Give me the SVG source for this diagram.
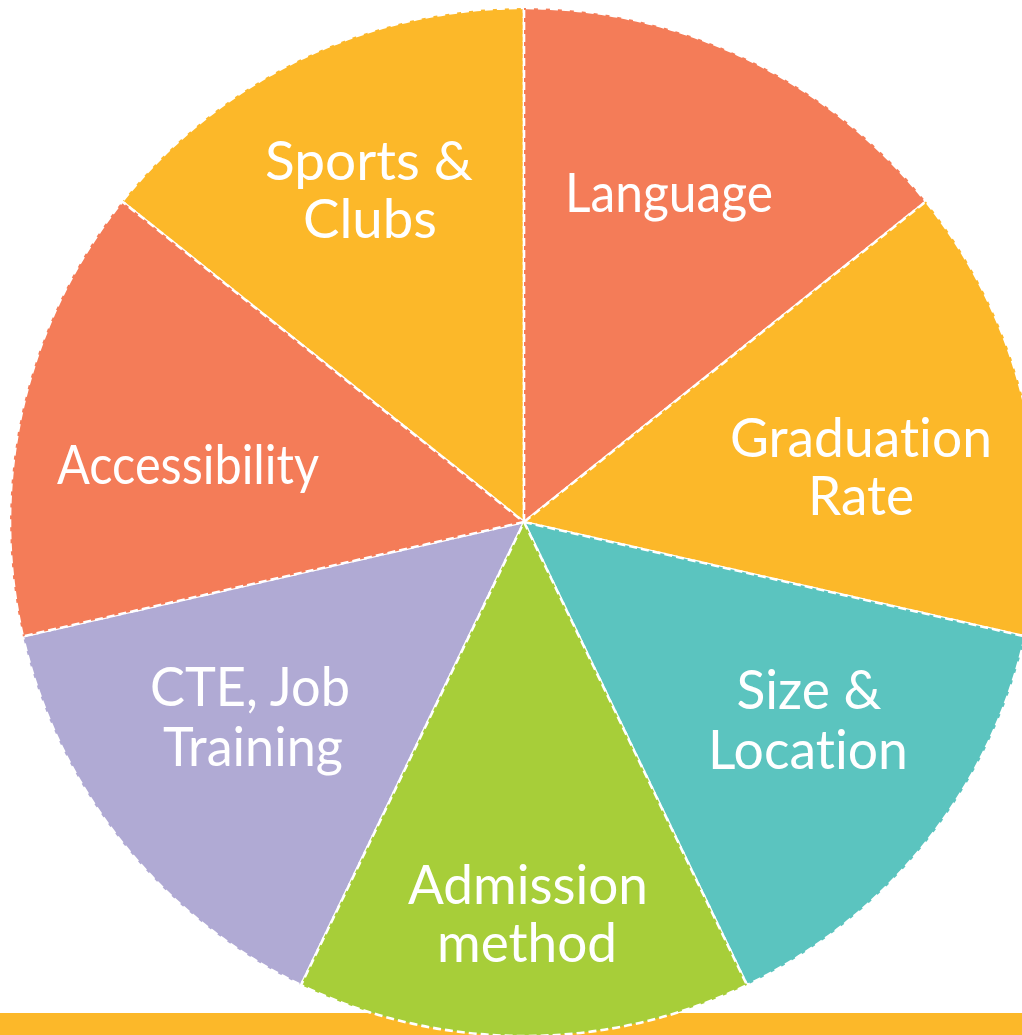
<svg xmlns="http://www.w3.org/2000/svg" width="1022" height="1035" viewBox="0 0 1022 1035">
  <style>
    .slice { stroke: #ffffff; stroke-width: 2.6; stroke-dasharray: 8 4; stroke-linejoin: round; }
    .orange { fill: #F47C58; }
    .yellow { fill: #FCB829; }
    .teal { fill: #5BC4BF; }
    .green { fill: #A7CE39; }
    .purple { fill: #B0AAD4; }
    .lbl { font-family: Lato, "Open Sans", "DejaVu Sans", sans-serif; font-size: 54px; fill: #ffffff; text-anchor: middle; font-variant-ligatures: none; font-feature-settings: "liga" 0, "dlig" 0; }
  </style>
  <rect x="0" y="0" width="1022" height="1035" fill="#ffffff"/>
  <rect id="bottom-bar" x="0" y="1013" width="1022" height="22" fill="#FCB829"/>

  <g id="slice-sports">
    <path class="slice yellow" d="M524 522 L122.2 201.5 A514 514 0 0 1 524 8 Z"/>
    <text class="lbl" x="369" y="180" textLength="208" lengthAdjust="spacingAndGlyphs">Sports &amp;</text>
    <text class="lbl" x="370" y="238" textLength="134" lengthAdjust="spacingAndGlyphs">Clubs</text>
  </g>

  <g id="slice-language">
    <path class="slice orange" d="M524 522 L524 8 A514 514 0 0 1 925.9 201.5 Z"/>
    <text class="lbl" x="669" y="212" textLength="208" lengthAdjust="spacingAndGlyphs">Language</text>
  </g>

  <g id="slice-graduation">
    <path class="slice yellow" d="M524 522 L925.9 201.5 A514 514 0 0 1 1025.1 636.4 Z"/>
    <text class="lbl" x="861" y="457" textLength="262" lengthAdjust="spacingAndGlyphs">Graduation</text>
    <text class="lbl" x="861" y="515" textLength="106" lengthAdjust="spacingAndGlyphs">Rate</text>
  </g>

  <g id="slice-size">
    <path class="slice teal" d="M524 522 L1025.1 636.4 A514 514 0 0 1 747.0 985.1 Z"/>
    <text class="lbl" x="809" y="709" textLength="145" lengthAdjust="spacingAndGlyphs">Size &amp;</text>
    <text class="lbl" x="808" y="769" textLength="200" lengthAdjust="spacingAndGlyphs">Location</text>
  </g>

  <g id="slice-cte">
    <path class="slice purple" d="M524 522 L301.0 985.1 A514 514 0 0 1 22.9 636.4 Z"/>
    <text class="lbl" x="250" y="706" textLength="200" lengthAdjust="spacingAndGlyphs">CTE, Job</text>
    <text class="lbl" x="253" y="766" textLength="180" lengthAdjust="spacingAndGlyphs">Training</text>
  </g>

  <g id="slice-accessibility">
    <path class="slice orange" d="M524 522 L22.9 636.4 A514 514 0 0 1 122.2 201.5 Z"/>
    <text class="lbl" x="188" y="484" textLength="262" lengthAdjust="spacingAndGlyphs">Accessibility</text>
  </g>

  <g id="slice-admission">
    <path class="slice green" d="M524 522 L747.0 985.1 A514 514 0 0 1 301.0 985.1 Z"/>
    <text class="lbl" x="528" y="904" textLength="240" lengthAdjust="spacingAndGlyphs">Admission</text>
    <text class="lbl" x="527" y="962" textLength="180" lengthAdjust="spacingAndGlyphs">method</text>
  </g>
</svg>
